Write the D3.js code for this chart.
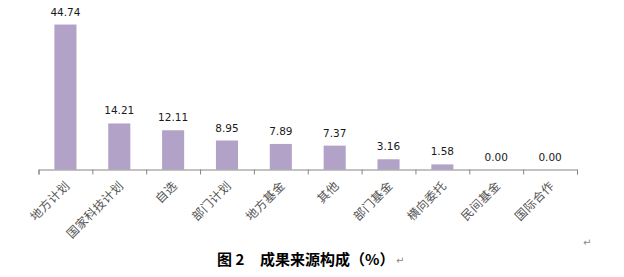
<!DOCTYPE html>
<html>
<head>
<meta charset="utf-8">
<script src="https://d3js.org/d3.v7.min.js"></script>
<style>
  body { margin: 0; background: #fff; }
</style>
</head>
<body>
<svg id="viz" width="624" height="277"></svg>
<script>
var categories = ["地方计划", "国家科技计划", "自选", "部门计划", "地方基金", "其他", "部门基金", "横向委托", "民间基金", "国际合作"];
var values = [44.74, 14.21, 12.11, 8.95, 7.89, 7.37, 3.16, 1.58, 0.00, 0.00];
var labels = ["44.74", "14.21", "12.11", "8.95", "7.89", "7.37", "3.16", "1.58", "0.00", "0.00"];
var figNo = "图 2";
var title = "成果来源构成（%）";

var svg = d3.select("#viz");
var left = 38.5, right = 577, base = 169.5;

var x = d3.scaleBand()
    .domain(categories)
    .range([left, right])
    .paddingInner(0.59)
    .paddingOuter(0.295);

var y = d3.scaleLinear()
    .domain([0, 50])
    .range([base, 7.5]);

// bars
svg.selectAll("rect.bar").data(values).enter().append("rect")
    .attr("class", "bar")
    .attr("x", function(d, i) { return x(categories[i]); })
    .attr("width", x.bandwidth())
    .attr("y", function(d) { return y(d); })
    .attr("height", function(d) { return base - y(d); })
    .attr("fill", "#b3a2c7");

// value labels
svg.selectAll("text.val").data(values).enter().append("text")
    .attr("class", "val")
    .attr("x", function(d, i) { return x(categories[i]) + x.bandwidth() / 2; })
    .attr("y", function(d) { return y(d) - 9; })
    .attr("text-anchor", "middle")
    .attr("font-family", "DejaVu Sans")
    .attr("font-size", "10.5px")
    .attr("fill", "#1a1a1a")
    .text(function(d, i) { return labels[i]; });

// axis, ticks between categories
var xb = d3.scaleLinear().domain([0, categories.length]).range([left, right]);
var axis = svg.append("g")
    .attr("transform", "translate(0," + base + ")")
    .call(d3.axisBottom(xb).ticks(categories.length).tickSize(5).tickSizeOuter(5).tickFormat(""));
axis.selectAll("path, line").attr("stroke", "#868686");

// category labels
svg.selectAll("text.cat").data(categories).enter().append("text")
    .attr("class", "cat")
    .attr("transform", function(d) {
        return "translate(" + (x(d) + x.bandwidth() / 2 + 5) + "," + (base + 17) + ") rotate(-45)";
    })
    .attr("text-anchor", "end")
    .attr("font-family", "Noto Sans CJK SC")
    .attr("font-size", "12px")
    .attr("letter-spacing", "0.4px")
    .attr("fill", "#555")
    .text(function(d) { return d; });

// caption
svg.append("text")
    .attr("x", 217)
    .attr("y", 265)
    .attr("font-family", "Noto Sans CJK SC")
    .attr("font-size", "15px")
    .attr("font-weight", "bold")
    .attr("fill", "#000")
    .text(figNo);
svg.append("text")
    .attr("x", 260)
    .attr("y", 265)
    .attr("font-family", "Noto Sans CJK SC")
    .attr("font-size", "15px")
    .attr("font-weight", "bold")
    .attr("fill", "#000")
    .text(title);

svg.append("text").attr("x", 396).attr("y", 264)
    .attr("font-family", "DejaVu Sans").attr("font-size", "10px").attr("fill", "#888").text("↵");
svg.append("text").attr("x", 583).attr("y", 246)
    .attr("font-family", "DejaVu Sans").attr("font-size", "10px").attr("fill", "#888").text("↵");
</script>
</body>
</html>
